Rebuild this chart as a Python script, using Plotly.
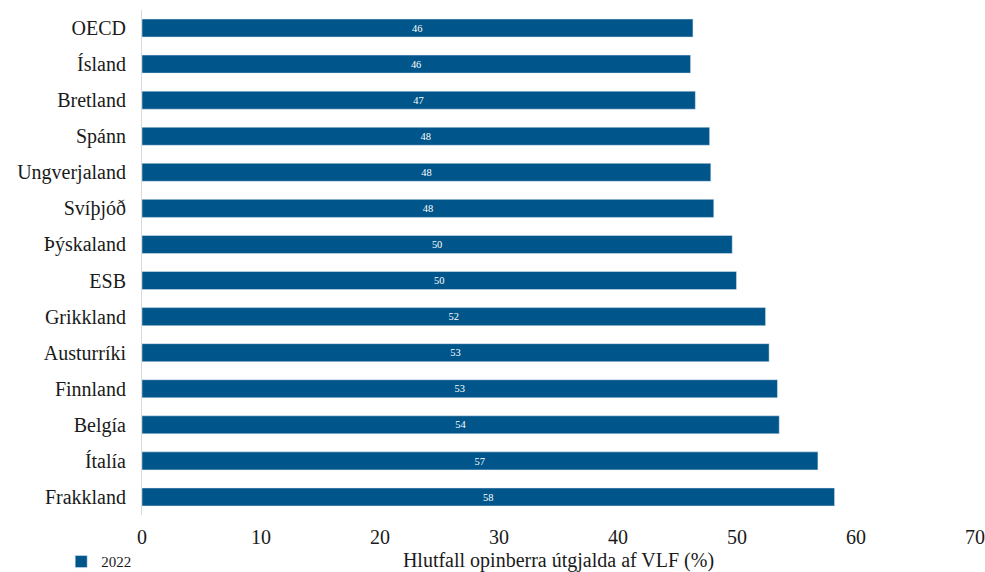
import plotly.graph_objects as go

# Public expenditure as share of GDP, 2022
countries = ["OECD", "Ísland", "Bretland", "Spánn", "Ungverjaland", "Svíþjóð",
             "Þýskaland", "ESB", "Grikkland", "Austurríki", "Finnland", "Belgía",
             "Ítalía", "Frakkland"]
values_2022 = [46.3, 46.1, 46.5, 47.7, 47.8, 48.05, 49.6, 49.96, 52.4, 52.7,
               53.4, 53.55, 56.8, 58.2]
x_ticks = [0, 10, 20, 30, 40, 50, 60, 70]

font_family = "Liberation Serif, DejaVu Serif, serif"
bar_color = "#00558a"

fig = go.Figure()
fig.add_trace(go.Bar(
    y=countries,
    x=values_2022,
    orientation="h",
    name="2022",
    marker=dict(color=bar_color),
    width=0.5,
    texttemplate="%{x:.0f}",
    textposition="inside",
    textangle=0,
    insidetextanchor="middle",
    textfont=dict(color="white", size=13, family=font_family),
))

fig.update_layout(
    width=985,
    height=572,
    margin=dict(l=142, r=10, t=10, b=57, autoexpand=False),
    plot_bgcolor="white",
    paper_bgcolor="white",
    font=dict(family=font_family, size=20, color="#1a1a1a"),
    showlegend=True,
    legend=dict(
        orientation="h",
        x=-0.097, y=-0.06, xanchor="left", yanchor="top",
        font=dict(size=15, color="#1a1a1a"),
        itemwidth=30,
    ),
    xaxis=dict(
        range=[0, 70],
        tickvals=x_ticks,
        showgrid=False,
        zeroline=False,
        showline=False,
        automargin=False,
        ticklabelstandoff=8,
        title=dict(text="Hlutfall opinberra útgjalda af VLF (%)", standoff=8,
                   font=dict(size=20)),
        tickfont=dict(size=20),
    ),
    yaxis=dict(
        autorange="reversed",
        showgrid=False,
        zeroline=False,
        showline=True,
        linecolor="#d9d9d9",
        linewidth=1,
        automargin=False,
        ticklabelstandoff=11,
        tickfont=dict(size=20),
    ),
    bargap=0.5,
)

# drop the default page margin so the figure sits at the window's corner
fig.write_html(
    "out.html",
    config={"displayModeBar": False},
    post_script="document.body.style.margin='0';document.body.style.overflow='hidden';",
)
